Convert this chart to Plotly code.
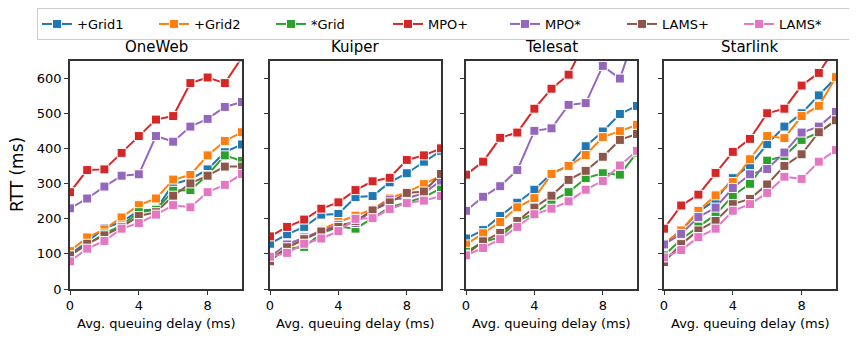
import plotly.graph_objects as go

delay = [0, 1, 2, 3, 4, 5, 6, 7, 8, 9, 10]
constellations = ["OneWeb", "Kuiper", "Telesat", "Starlink"]
series_names = ["+Grid1", "+Grid2", "*Grid", "MPO+", "MPO*", "LAMS+", "LAMS*"]
colors = ["#1f77b4", "#ff7f0e", "#2ca02c", "#d62728", "#9467bd", "#8c564b", "#e377c2"]

# RTT (ms) per constellation, one list per series
oneweb = {
    "+Grid1": [99, 134, 174, 191, 224, 227, 299, 313, 341, 390, 412],
    "+Grid2": [108, 147, 170, 204, 239, 258, 312, 325, 381, 422, 447],
    "*Grid": [96, 127, 158, 181, 219, 226, 280, 282, 325, 381, 365],
    "MPO+": [276, 339, 341, 388, 436, 483, 493, 587, 603, 587, 660],
    "MPO*": [230, 258, 292, 323, 327, 436, 420, 463, 485, 519, 533],
    "LAMS+": [96, 129, 153, 177, 208, 219, 266, 301, 323, 349, 349],
    "LAMS*": [79, 115, 137, 172, 188, 212, 239, 233, 276, 297, 328],
}
kuiper = {
    "+Grid1": [129, 156, 177, 212, 214, 262, 265, 304, 330, 363, 394],
    "+Grid2": [87, 117, 141, 169, 191, 209, 227, 259, 276, 299, 323],
    "*Grid": [85, 115, 120, 158, 178, 172, 202, 233, 247, 262, 287],
    "MPO+": [150, 177, 198, 229, 247, 282, 307, 317, 368, 381, 401],
    "MPO*": [92, 127, 147, 165, 183, 188, 224, 255, 259, 273, 309],
    "LAMS+": [79, 119, 142, 164, 177, 194, 224, 247, 274, 278, 328],
    "LAMS*": [92, 103, 129, 144, 165, 200, 202, 228, 245, 252, 265],
}
telesat = {
    "+Grid1": [144, 168, 208, 246, 283, 330, 351, 407, 449, 499, 522],
    "+Grid2": [127, 159, 191, 233, 259, 328, 351, 382, 433, 450, 468],
    "*Grid": [106, 134, 148, 194, 215, 250, 276, 316, 330, 326, 389],
    "MPO+": [326, 363, 431, 446, 514, 571, 611, 708, 760, 800, 840],
    "MPO*": [223, 263, 293, 339, 451, 458, 525, 530, 636, 600, 743],
    "LAMS+": [98, 136, 160, 194, 232, 266, 311, 337, 377, 425, 442],
    "LAMS*": [96, 117, 142, 177, 213, 229, 250, 283, 308, 352, 394],
}
starlink = {
    "+Grid1": [129, 167, 220, 254, 316, 353, 413, 463, 501, 552, 603],
    "+Grid2": [129, 167, 223, 267, 305, 370, 436, 430, 493, 522, 604],
    "*Grid": [96, 141, 178, 212, 266, 300, 366, 379, 425, 446, 481],
    "MPO+": [172, 238, 269, 331, 391, 428, 501, 514, 580, 616, 690],
    "MPO*": [127, 157, 205, 232, 288, 327, 342, 389, 446, 463, 505],
    "LAMS+": [77, 128, 167, 194, 242, 257, 298, 351, 384, 447, 481],
    "LAMS*": [90, 111, 148, 172, 223, 242, 274, 320, 314, 363, 396],
}
all_data = [oneweb, kuiper, telesat, starlink]

# page body adds an 8px margin, so the figure is drawn 8px smaller/shifted
OFF = 8
W, H = 857 - 2 * OFF, 339 - 2 * OFF
x_px = [(70, 242), (270, 441), (466, 637), (664, 836)]
top_px, bot_px = 61, 289
L = x_px[0][0] - OFF
R = W - (x_px[3][1] - OFF)
T = top_px - OFF
B = H - (bot_px - OFF)
pw, ph = W - L - R, H - T - B
font = "DejaVu Sans"


def px_x(p):
    return (p - OFF - L) / pw


def px_y(p):
    return (H - B - (p - OFF)) / ph


fig = go.Figure()
for i, data in enumerate(all_data):
    ax = "" if i == 0 else str(i + 1)
    for name, color in zip(series_names, colors):
        fig.add_trace(
            go.Scatter(
                x=delay,
                y=data[name],
                name=name,
                mode="lines+markers",
                line=dict(color=color, width=2),
                marker=dict(symbol="square", size=9, color=color,
                            line=dict(color="white", width=1)),
                legendgroup=name,
                showlegend=(i == 0),
                xaxis="x" + ax,
                yaxis="y" + ax,
            )
        )
    axis_common = dict(
        showline=True, mirror=True, linecolor="#333", linewidth=1.5,
        ticks="outside", ticklen=4, tickcolor="#333", showgrid=False,
        zeroline=False, automargin=False,
        tickfont=dict(family=font, size=13, color="black"),
    )
    fig.update_layout({
        "xaxis" + ax: dict(
            domain=[px_x(x_px[i][0]), px_x(x_px[i][1])],
            range=[0, 10], tickvals=[0, 4, 8], anchor="y" + ax,
            **axis_common,
        ),
        "yaxis" + ax: dict(
            domain=[0, 1], range=[0, 650], tickvals=[0, 100, 200, 300, 400, 500, 600],
            showticklabels=(i == 0), anchor="x" + ax,
            **axis_common,
        ),
    })
    xc = px_x((x_px[i][0] + x_px[i][1]) / 2)
    fig.add_annotation(
        x=xc, y=px_y(47), xref="paper", yref="paper", text=constellations[i],
        showarrow=False, font=dict(family=font, size=15, color="black"),
        xanchor="center", yanchor="middle",
    )
    fig.add_annotation(
        x=xc, y=px_y(323), xref="paper", yref="paper", text="Avg. queuing delay (ms)",
        showarrow=False, font=dict(family=font, size=13, color="black"),
        xanchor="center", yanchor="middle",
    )

fig.add_annotation(
    x=px_x(17), y=px_y(175), xref="paper", yref="paper", text="RTT (ms)",
    textangle=-90, showarrow=False, font=dict(family=font, size=17, color="black"),
    xanchor="center", yanchor="middle",
)

fig.update_layout(
    width=W, height=H,
    margin=dict(l=L, r=R, t=T, b=B, autoexpand=False),
    plot_bgcolor="white", paper_bgcolor="white",
    legend=dict(
        orientation="h", x=px_x(37), y=px_y(OFF), xanchor="left", yanchor="top",
        bordercolor="#ccc", borderwidth=1, entrywidth=72, entrywidthmode="pixels",
        font=dict(family=font, size=13, color="black"), tracegroupgap=0,
    ),
)

fig.write_html("out.html")
